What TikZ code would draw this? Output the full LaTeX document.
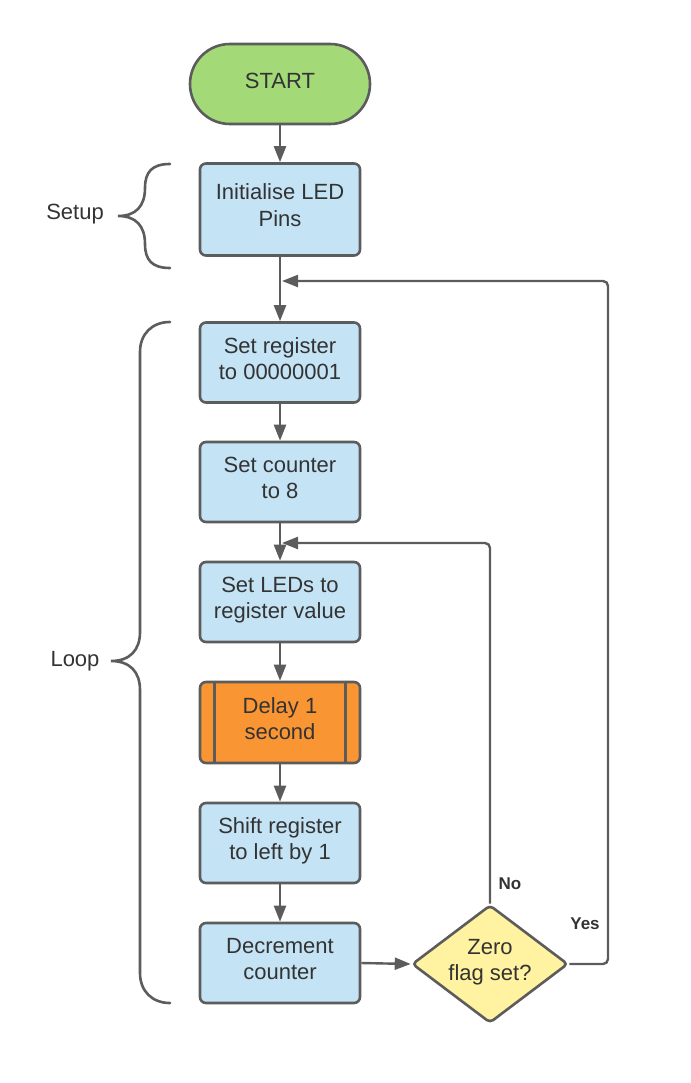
\documentclass[tikz,border=0pt]{standalone}
\usepackage{fontspec}
\setmainfont{Liberation Sans}
\usetikzlibrary{shapes.geometric,arrows.meta,calc}
\definecolor{linec}{HTML}{5C5C5C}
\definecolor{textc}{HTML}{333333}
\definecolor{startg}{HTML}{A3D977}
\definecolor{boxblue}{HTML}{C4E4F6}
\definecolor{delayor}{HTML}{FA9533}
\definecolor{diayel}{HTML}{FFF2A0}
\tikzset{
  border/.style={draw=linec, line width=2.6pt},
  boxnode/.style={border, rounded corners=6pt, fill=boxblue, minimum width=160pt,
    minimum height=80pt, align=center, inner sep=0pt, text=textc,
    text height=42pt, text depth=9pt,
    font=\fontsize{22}{26}\selectfont},
  arr/.style={draw=linec, line width=2.4pt, -{Triangle[length=16pt,width=12pt]}},
  lbl/.style={text=textc, font=\fontsize{22}{26}\selectfont, inner sep=0pt},
  yn/.style={text=textc, font=\bfseries\fontsize{17}{20}\selectfont, inner sep=0pt},
  bracec/.style={draw=linec, line width=2.6pt, line cap=round}
}
\begin{document}
\begin{tikzpicture}[x=1pt,y=-1pt]
\useasboundingbox (0,0) rectangle (690,1083);
\node[boxnode, fill=startg, minimum width=180pt, rounded corners=39.9pt,
  text height=16pt, text depth=6pt] (start) at (280,84) {START};
\node[boxnode, minimum height=92pt] (init) at (280,209.5) {Initialise LED\\Pins};
\node[boxnode] (reg) at (280,362.5) {Set register\\to 00000001};
\node[boxnode] (cnt) at (280,482) {Set counter\\to 8};
\node[boxnode] (leds) at (280,602) {Set LEDs to\\register value};
\node[boxnode, fill=delayor, minimum height=81pt] (delay) at (280,722.5) {Delay 1\\second};
\draw[border] ([xshift=16pt]delay.north west) -- ([xshift=16pt]delay.south west);
\draw[border] ([xshift=-16pt]delay.north east) -- ([xshift=-16pt]delay.south east);
\node[boxnode] (shift) at (280,843) {Shift register\\to left by 1};
\node[boxnode] (dec) at (280,963) {Decrement\\counter};
\node[border, fill=diayel, diamond, shape aspect=1.32, minimum width=156pt, minimum height=118pt,
  inner sep=0pt, rounded corners=4pt, align=center, text=textc,
  text height=42pt, text depth=9pt,
  font=\fontsize{22}{26}\selectfont] (dia) at (490,964) {Zero\\flag set?};

\coordinate (yesend) at (282,281);
\coordinate (noend) at (282,543);

\draw[arr] (start) -- (init);
\draw[arr] (init) -- (reg);
\draw[arr] (reg) -- (cnt);
\draw[arr] (cnt) -- (leds);
\draw[arr] (leds) -- (delay);
\draw[arr] (delay) -- (shift);
\draw[arr] (shift) -- (dec);
\draw[arr] (dec.east) -- (dia.west);
\draw[arr, rounded corners=5pt] (dia.east) -| (608,281) -- (yesend);
\draw[arr, rounded corners=5pt] (dia.north) |- (noend);

\node[yn] (nolbl) at (510,884) {No};
\node[yn] (yeslbl) at (585,924) {Yes};

\node[lbl] (setup) at (75,214) {Setup};
\node[lbl] (loop) at (75,661) {Loop};

\draw[bracec] (170,164) .. controls (152,164) and (145,172) .. (145,188)
  .. controls (145,206) and (136,216) .. (118,216)
  .. controls (136,216) and (145,226) .. (145,244)
  .. controls (145,260) and (152,268) .. (170,268);
\draw[bracec] (170,322) .. controls (152,322) and (140,334) .. (140,352)
  -- (140,632) .. controls (140,650) and (130,661) .. (111,661)
  .. controls (130,661) and (140,672) .. (140,690)
  -- (140,973) .. controls (140,991) and (152,1003) .. (170,1003);
\end{tikzpicture}
\end{document}
